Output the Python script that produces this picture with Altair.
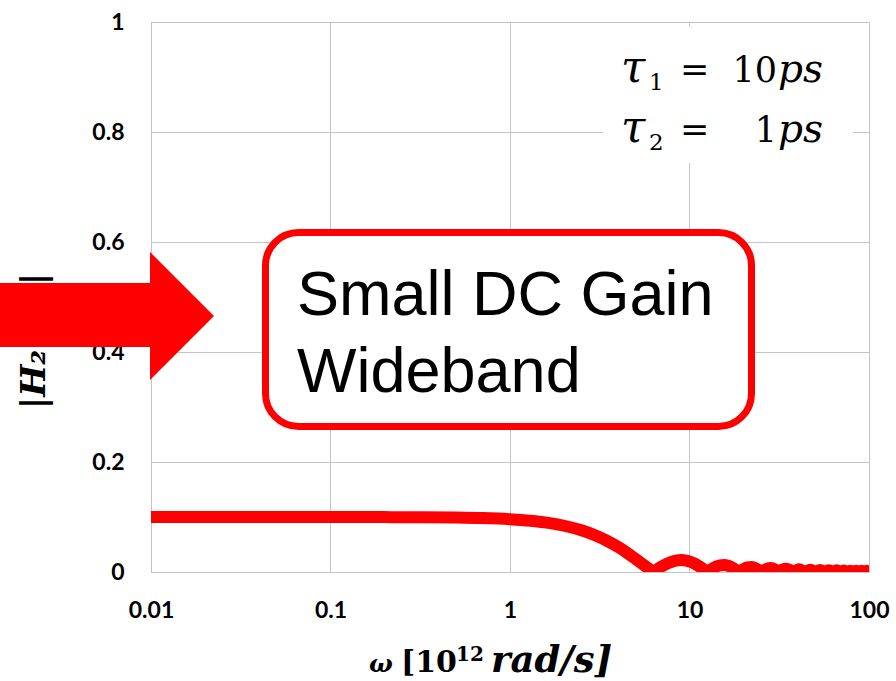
import altair as alt
import pandas as pd

# ---- data ----
omega = [0.01, 0.03, 0.1, 0.2, 0.3, 0.5, 0.7, 1.0, 1.3, 1.6, 2.0, 2.5, 3.0, 3.5, 4.0,
         4.5, 5.0, 5.5, 6.0, 6.28, 6.7, 7.2, 7.8, 8.4, 9.0, 9.6, 10.2, 10.8, 11.4, 12.0,
         12.57, 13.2, 14.0, 14.8, 15.6, 16.4, 17.2, 18.0, 18.85, 19.8, 21.0, 22.2, 23.4,
         24.4, 25.13, 26.5, 28.3, 30.0, 31.4, 33.0, 34.6, 36.2, 37.7, 40.8, 44.0, 47.1,
         50.3, 53.4, 56.5, 59.7, 62.8, 66.0, 69.1, 72.3, 75.4, 78.5, 81.7, 84.8, 88.0,
         91.1, 94.2, 97.4, 100.0]
h2 = [0.1, 0.1, 0.1, 0.0998, 0.0996, 0.099, 0.098, 0.0959, 0.0931, 0.0897, 0.0841,
      0.0759, 0.0665, 0.0562, 0.0455, 0.0346, 0.0239, 0.0139, 0.0047, 0.0, 0.0062,
      0.0123, 0.0176, 0.0208, 0.0217, 0.0208, 0.0182, 0.0143, 0.0097, 0.0047, 0.0,
      0.0047, 0.0094, 0.0121, 0.0128, 0.0115, 0.0085, 0.0046, 0.0, 0.0046, 0.0084,
      0.009, 0.0066, 0.0029, 0.0, 0.0048, 0.0071, 0.0043, 0.0, 0.0043, 0.0058, 0.0038,
      0.0, 0.0049, 0.0, 0.0042, 0.0, 0.0037, 0.0, 0.0034, 0.0, 0.003, 0.0, 0.0028, 0.0,
      0.0025, 0.0, 0.0024, 0.0, 0.0022, 0.0, 0.0021, 0.0005]
x_ticks = [0.01, 0.1, 1, 10, 100]
y_ticks = [0, 0.2, 0.4, 0.6, 0.8, 1.0]
tau_names = ["τ", "τ"]
tau_subs = ["1", "2"]
tau_values = ["10", "1"]
tau_unit = "ps"
box_lines = ["Small DC Gain", "Wideband"]
x_title_parts = ["ω", "[10", "12", "rad/s]"]
y_title = "|H₂(ω)|"

df = pd.DataFrame({"omega": omega, "h2": h2})
one = pd.DataFrame({"k": [0]})

W, H = 718, 550
RED = "#FF0000"
GRID = "#c4c4c4"
SERIF = "DejaVu Serif"

axis_common = dict(title=None, ticks=False, labelFont="Lato", labelFontWeight="bold",
                   labelFontSize=23, labelColor="black", gridColor=GRID, gridWidth=1,
                   domainColor=GRID, domainWidth=1, labelFlush=False, labelOverlap=False,
                   format="~g")

line = alt.Chart(df).mark_line(color=RED, strokeWidth=12, clip=True,
                               interpolate="monotone").encode(
    x=alt.X("omega:Q", scale=alt.Scale(type="log", domain=[0.01, 100], nice=False),
            axis=alt.Axis(values=x_ticks, labelPadding=27, **axis_common)),
    y=alt.Y("h2:Q", scale=alt.Scale(domain=[0, 1], nice=False),
            axis=alt.Axis(values=y_ticks, labelPadding=27, **axis_common)),
)


def txt(text, x, y, size, align="left", style="normal", weight="normal",
        font=SERIF, angle=0, baseline="alphabetic"):
    kw = dict(text=text, font=font, fontSize=size, align=align, baseline=baseline,
              color="black", fontStyle=style, fontWeight=weight)
    if angle:
        kw["angle"] = angle
    return alt.Chart(one).mark_text(**kw).encode(x=alt.value(x), y=alt.value(y))


layers = [line]

# white patch behind the tau annotation
layers.append(alt.Chart(one).mark_rect(fill="white").encode(
    x=alt.value(452), x2=alt.value(702), y=alt.value(5), y2=alt.value(141)))

for i, base in enumerate([60, 120]):
    layers.append(txt(tau_names[i], 470, base, 44, style="italic"))
    layers.append(txt(tau_subs[i], 498, base + 8, 23))
    layers.append(txt("=", 529, base - 1, 35))
    layers.append(txt(tau_values[i], 626, base, 35, align="right"))
    layers.append(txt(tau_unit, 627, base, 39, style="italic"))

# rounded call-out box
layers.append(alt.Chart(one).mark_rect(cornerRadius=33, fill="white", stroke=RED,
                                       strokeWidth=7).encode(
    x=alt.value(114.5), x2=alt.value(600.5), y=alt.value(210.5), y2=alt.value(404.5)))
layers.append(txt(box_lines[0], 146, 293, 63, font="Liberation Sans"))
layers.append(txt(box_lines[1], 146, 370, 63, font="Liberation Sans"))

# x title pieces
layers.append(txt(x_title_parts[0], 218, 650, 25, style="italic", weight="bold"))
layers.append(txt(x_title_parts[1], 250, 650, 30, weight="bold"))
layers.append(txt(x_title_parts[2], 305, 639, 20, weight="bold"))
layers.append(txt(x_title_parts[3], 340, 650, 37, style="italic", weight="bold"))

# y title
layers.append(txt(y_title, -116, 319, 34, style="italic", weight="bold", angle=270,
                  align="center", baseline="middle"))

# block arrow
layers.append(alt.Chart(one).mark_rect(color=RED).encode(
    x=alt.value(-151), x2=alt.value(0), y=alt.value(261), y2=alt.value(325)))
layers.append(alt.Chart(one).mark_point(shape="M -0.5 -1 L 0.5 0 L -0.5 1 Z", size=16384,
                                        filled=True, color=RED, opacity=1,
                                        strokeWidth=0).encode(
    x=alt.value(31), y=alt.value(294)))

chart = alt.layer(*layers).properties(
    width=W, height=H,
    autosize=alt.AutoSizeParams(type="none"),
    padding={"left": 151, "top": 22, "right": 27, "bottom": 109},
    background="white",
).configure_view(strokeWidth=0)

chart.save("out.html", embed_options={"renderer": "svg", "actions": False})
